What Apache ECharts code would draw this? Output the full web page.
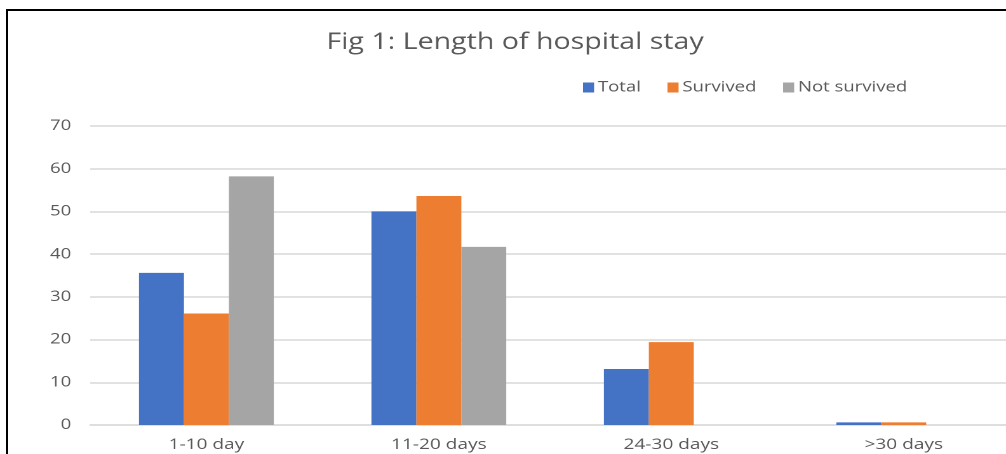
<!DOCTYPE html>
<html>
<head>
<meta charset="utf-8">
<script src="https://cdn.jsdelivr.net/npm/echarts@6/dist/echarts.min.js"></script>
<style>
  html, body { margin: 0; padding: 0; background: #fff; overflow: hidden; }
  #stage { position: relative; width: 1006px; height: 454px; overflow: hidden; background: #fff; }
  /* chart is laid out narrower and stretched horizontally to the full width */
  #chart { position: absolute; left: 0; top: 0; width: 792px; height: 454px;
           transform: scaleX(1.2702); transform-origin: 0 0; }
  #frame { position: absolute; left: 6px; top: 9px; width: 1100px; height: 600px;
           border-top: 2.5px solid #000; border-left: 2.5px solid #000; pointer-events: none; }
</style>
</head>
<body>
<div id="stage">
  <div id="chart"></div>
  <div id="frame"></div>
</div>
<script>
// Length of hospital stay, in percent of patients per group
const categories = ['1-10 day', '11-20 days', '24-30 days', '>30 days'];
const totalValues = [35.6, 50.0, 13.1, 0.6];
const survivedValues = [26.1, 53.6, 19.4, 0.6];
const notSurvivedValues = [58.2, 41.7, 0, 0];
const seriesNames = ['Total', 'Survived', 'Not survived'];
const yTicks = { min: 0, max: 70, interval: 10 };

const textColor = '#595959';
const fontFamily = '"Open Sans", "Liberation Sans", sans-serif';

const chart = echarts.init(document.getElementById('chart'), null, { renderer: 'canvas', devicePixelRatio: 2 });

chart.setOption({
  backgroundColor: '#ffffff',
  animation: false,
  title: {
    text: 'Fig 1: Length of hospital stay',
    left: 400.5,
    top: 26,
    textAlign: 'center',
    textStyle: { color: textColor, fontFamily, fontSize: 22.5, fontWeight: 'normal' }
  },
  legend: {
    data: seriesNames,
    left: 459,
    top: 80,
    padding: 0,
    itemWidth: 8.7,
    itemHeight: 10,
    itemGap: 21,
    icon: 'rect',
    textStyle: { color: textColor, fontFamily, fontSize: 14.6, padding: [0, 0, 0, -2] }
  },
  grid: { left: 71, width: 732, top: 126, bottom: 29, outerBoundsMode: 'none' },
  xAxis: {
    type: 'category',
    data: categories,
    axisLine: { show: true, lineStyle: { color: '#d9d9d9', width: 1.5 } },
    axisTick: { show: false },
    axisLabel: { color: textColor, fontFamily, fontSize: 15, margin: 12 }
  },
  yAxis: {
    type: 'value',
    min: yTicks.min,
    max: yTicks.max,
    interval: yTicks.interval,
    axisLine: { show: false },
    axisTick: { show: false },
    splitLine: { lineStyle: { color: '#d9d9d9', width: 1.5 } },
    axisLabel: { color: textColor, fontFamily, fontSize: 14.5, margin: 15 }
  },
  series: [
    { name: seriesNames[0], type: 'bar', data: totalValues, itemStyle: { color: '#4472c4' }, barGap: '0%', barCategoryGap: '42%' },
    { name: seriesNames[1], type: 'bar', data: survivedValues, itemStyle: { color: '#ed7d31' }, barGap: '0%', barCategoryGap: '42%' },
    { name: seriesNames[2], type: 'bar', data: notSurvivedValues, itemStyle: { color: '#a5a5a5' }, barGap: '0%', barCategoryGap: '42%' }
  ]
});
</script>
</body>
</html>
